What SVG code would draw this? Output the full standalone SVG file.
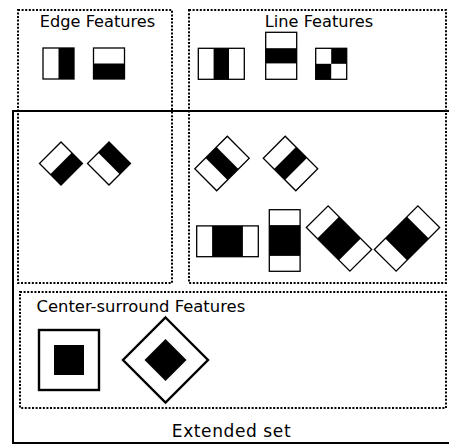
<svg xmlns="http://www.w3.org/2000/svg" width="449" height="444" viewBox="0 0 449 444">
  <style>
    .group { fill: none; stroke: #000; stroke-width: 2; stroke-dasharray: 2 1.6; }
    .frame { fill: none; stroke: #000; stroke-width: 2; }
    .w { fill: #fff; stroke: none; }
    .b { fill: #000; stroke: none; }
    .edge { fill: none; stroke: #000; stroke-width: 1.3; }
    .thick { fill: none; stroke: #000; stroke-width: 2.4; }
    .label { font-family: "DejaVu Sans", "Liberation Sans", sans-serif; font-size: 16px; fill: #000; }
  </style>
  <rect width="449" height="444" fill="#fff"/>

  <!-- Extended set frame (open on the right, beyond the canvas edge) -->
  <g id="extended-set">
    <path class="frame" d="M450 111 H13 V443 H450"/>
    <text class="label" x="231.5" y="436.5" text-anchor="middle" style="font-size:17px;letter-spacing:0.6px">Extended set</text>
  </g>

  <!-- Edge features -->
  <g id="edge-features">
    <rect class="group" x="18" y="10" width="154" height="273"/>
    <text class="label" x="97.5" y="26.5" text-anchor="middle" style="font-size:16.2px">Edge Features</text>
    <g id="edge-vertical" transform="translate(58.5 63.5)">
      <rect class="w" x="-15.5" y="-15.5" width="15.5" height="31"/>
      <rect class="b" x="0" y="-15.5" width="15.5" height="31"/>
      <rect class="edge" x="-15.5" y="-15.5" width="31" height="31"/>
    </g>
    <g id="edge-horizontal" transform="translate(109 63.5)">
      <rect class="w" x="-15.5" y="-15.5" width="31" height="15.5"/>
      <rect class="b" x="-15.5" y="0" width="31" height="15.5"/>
      <rect class="edge" x="-15.5" y="-15.5" width="31" height="31"/>
    </g>
    <g id="edge-diag-1" transform="translate(61 163.5) rotate(45)">
      <rect class="w" x="-15.2" y="-15.2" width="15.2" height="30.4"/>
      <rect class="b" x="0" y="-15.2" width="15.2" height="30.4"/>
      <rect class="edge" x="-15.2" y="-15.2" width="30.4" height="30.4"/>
    </g>
    <g id="edge-diag-2" transform="translate(109 163.5) rotate(-45)">
      <rect class="w" x="-15.2" y="-15.2" width="15.2" height="30.4"/>
      <rect class="b" x="0" y="-15.2" width="15.2" height="30.4"/>
      <rect class="edge" x="-15.2" y="-15.2" width="30.4" height="30.4"/>
    </g>
  </g>

  <!-- Line features -->
  <g id="line-features">
    <rect class="group" x="189" y="10" width="257" height="273"/>
    <text class="label" x="319" y="26.5" text-anchor="middle" style="font-size:16.2px">Line Features</text>
    <g id="line-vertical" transform="translate(221.3 63.8)">
      <rect class="w" x="-23" y="-15.5" width="46" height="31"/>
      <rect class="b" x="-7.7" y="-15.5" width="15.4" height="31"/>
      <rect class="edge" x="-23" y="-15.5" width="46" height="31"/>
    </g>
    <g id="line-horizontal" transform="translate(281.2 55.8)">
      <rect class="w" x="-15.5" y="-23.5" width="31" height="47"/>
      <rect class="b" x="-15.5" y="-7.6" width="31" height="15.2"/>
      <rect class="edge" x="-15.5" y="-23.5" width="31" height="47"/>
    </g>
    <g id="line-checker" transform="translate(331.2 63.8)">
      <rect class="w" x="-15.5" y="-15.5" width="31" height="31"/>
      <rect class="b" x="0" y="-15.5" width="15.5" height="15.5"/>
      <rect class="b" x="-15.5" y="0" width="15.5" height="15.5"/>
      <rect class="edge" x="-15.5" y="-15.5" width="31" height="31"/>
    </g>
    <g id="line-diag-1" transform="translate(222 163.5) rotate(-45)">
      <rect class="w" x="-23" y="-15.5" width="46" height="31"/>
      <rect class="b" x="-7.7" y="-15.5" width="15.4" height="31"/>
      <rect class="edge" x="-23" y="-15.5" width="46" height="31"/>
    </g>
    <g id="line-diag-2" transform="translate(290.5 163.5) rotate(45)">
      <rect class="w" x="-23" y="-15.5" width="46" height="31"/>
      <rect class="b" x="-7.7" y="-15.5" width="15.4" height="31"/>
      <rect class="edge" x="-23" y="-15.5" width="46" height="31"/>
    </g>
    <g id="line-wide-vertical" transform="translate(227.5 241.3)">
      <rect class="w" x="-30.8" y="-15.4" width="61.6" height="30.8"/>
      <rect class="b" x="-15.4" y="-15.4" width="30.8" height="30.8"/>
      <rect class="edge" x="-30.8" y="-15.4" width="61.6" height="30.8"/>
    </g>
    <g id="line-wide-horizontal" transform="translate(284.7 240.5)">
      <rect class="w" x="-15.4" y="-30.8" width="30.8" height="61.6"/>
      <rect class="b" x="-15.4" y="-15.4" width="30.8" height="30.8"/>
      <rect class="edge" x="-15.4" y="-30.8" width="30.8" height="61.6"/>
    </g>
    <g id="line-wide-diag-1" transform="translate(339 238.5) rotate(45)">
      <rect class="w" x="-30.8" y="-15.4" width="61.6" height="30.8"/>
      <rect class="b" x="-15.4" y="-15.4" width="30.8" height="30.8"/>
      <rect class="edge" x="-30.8" y="-15.4" width="61.6" height="30.8"/>
    </g>
    <g id="line-wide-diag-2" transform="translate(407 238.5) rotate(-45)">
      <rect class="w" x="-30.8" y="-15.4" width="61.6" height="30.8"/>
      <rect class="b" x="-15.4" y="-15.4" width="30.8" height="30.8"/>
      <rect class="edge" x="-30.8" y="-15.4" width="61.6" height="30.8"/>
    </g>
  </g>

  <!-- Center-surround features -->
  <g id="center-surround-features">
    <rect class="group" x="20" y="292" width="426" height="116"/>
    <text class="label" x="36.5" y="311.5" style="font-size:16.4px">Center-surround Features</text>
    <g id="center-square" transform="translate(69 360)">
      <rect class="thick" x="-30" y="-30" width="60" height="60"/>
      <rect class="b" x="-15" y="-15" width="30" height="30"/>
    </g>
    <g id="center-diamond" transform="translate(165.5 360)">
      <polygon class="thick" points="0,-42.5 42.5,0 0,42.5 -42.5,0"/>
      <polygon class="b" points="0,-21 21,0 0,21 -21,0"/>
    </g>
  </g>
</svg>
